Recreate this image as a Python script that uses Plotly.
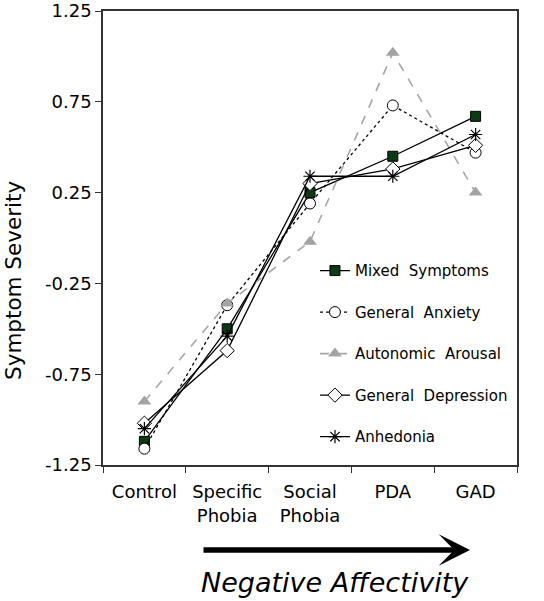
import plotly.graph_objects as go

categories = ["Control", "Specific<br>Phobia", "Social<br>Phobia", "PDA", "GAD"]

mixed_symptoms = [-1.12, -0.50, 0.25, 0.45, 0.67]
general_anxiety = [-1.16, -0.37, 0.19, 0.73, 0.47]
autonomic_arousal = [-0.90, -0.36, -0.02, 1.02, 0.25]
general_depression = [-1.02, -0.62, 0.30, 0.38, 0.51]
anhedonia = [-1.05, -0.54, 0.34, 0.34, 0.57]

series_names = ["Mixed\u00a0 Symptoms", "General\u00a0 Anxiety", "Autonomic\u00a0 Arousal",
                "General\u00a0 Depression", "Anhedonia"]

y_ticks = [1.25, 0.75, 0.25, -0.25, -0.75, -1.25]
y_tick_text = ["1.25", "0.75", "0.25", "-0.25", "-0.75", "-1.25"]

FONT = "DejaVu Sans"

fig = go.Figure()

styles = [
    dict(values=mixed_symptoms, line=dict(color="black", width=1.3, dash="solid"),
         marker=dict(symbol="square", size=10, color="#0c3a13", line=dict(color="black", width=1))),
    dict(values=general_anxiety, line=dict(color="black", width=1.3, dash="dot"),
         marker=dict(symbol="circle", size=11, color="white", line=dict(color="black", width=1))),
    dict(values=autonomic_arousal, line=dict(color="#a6a6a6", width=1.6, dash="dash"),
         marker=dict(symbol="triangle-up", size=12, color="#a3a3a3", line=dict(color="#a3a3a3", width=0))),
    dict(values=general_depression, line=dict(color="black", width=1.3, dash="solid"),
         marker=dict(symbol="diamond", size=11, color="white", line=dict(color="black", width=1))),
    dict(values=anhedonia, line=dict(color="black", width=1.3, dash="solid"),
         marker=dict(symbol="asterisk-open", size=11, color="black", line=dict(color="black", width=1.2))),
]

for i, (name, st) in enumerate(zip(series_names, styles)):
    fig.add_trace(go.Scatter(
        x=categories, y=st["values"], name=name, mode="lines+markers",
        line=st["line"], marker=st["marker"], legendgroup=f"g{i}",
    ))

fig.update_layout(
    width=544, height=601,
    margin=dict(l=103, r=27, t=11, b=136, autoexpand=False),
    paper_bgcolor="white", plot_bgcolor="white",
    font=dict(family=FONT, color="black"),
    showlegend=True,
    legend=dict(x=0.512, y=0.464, xanchor="left", yanchor="top",
                font=dict(family=FONT, size=15, color="black"),
                tracegroupgap=19, bgcolor="rgba(0,0,0,0)", borderwidth=0),
    xaxis=dict(type="category", range=[-0.5, 4.5], tickson="boundaries", ticks="outside", ticklen=6,
               tickwidth=1.3, tickcolor="#333", showline=True, linecolor="#333", linewidth=1.5,
               mirror=True, showgrid=False, zeroline=False, automargin=False,
               ticklabelstandoff=10,
               tickfont=dict(family=FONT, size=18, color="black")),
    yaxis=dict(range=[-1.25, 1.25], tickvals=y_ticks, ticktext=y_tick_text,
               ticks="outside", ticklen=6, tickwidth=1.3, tickcolor="#333",
               showline=True, linecolor="#333", linewidth=1.5, mirror=True,
               showgrid=False, zeroline=False, automargin=False,
               ticklabeloverflow="allow",
               tickfont=dict(family=FONT, size=18, color="black")),
    annotations=[
        dict(text="Symptom Severity", xref="paper", yref="paper", x=-0.215, y=0.4075,
             textangle=-90, showarrow=False, font=dict(family=FONT, size=21.5, color="black"),
             xanchor="center", yanchor="middle"),
        dict(text="", xref="paper", yref="paper", x=(470 - 103) / 414, y=(465 - 550) / 454,
             ax=-268, ay=0, showarrow=True, arrowhead=3, arrowwidth=5.5, arrowsize=0.95,
             arrowcolor="black"),
        dict(text="<i>Negative Affectivity</i>", xref="paper", yref="paper",
             x=(335 - 103) / 414, y=(465 - 582) / 454, showarrow=False,
             font=dict(family=FONT, size=27, color="black"),
             xanchor="center", yanchor="middle"),
    ],
)

fig.write_html("out.html", config={"displayModeBar": False},
               post_script="document.body.style.margin='0';document.body.style.padding='0';")
